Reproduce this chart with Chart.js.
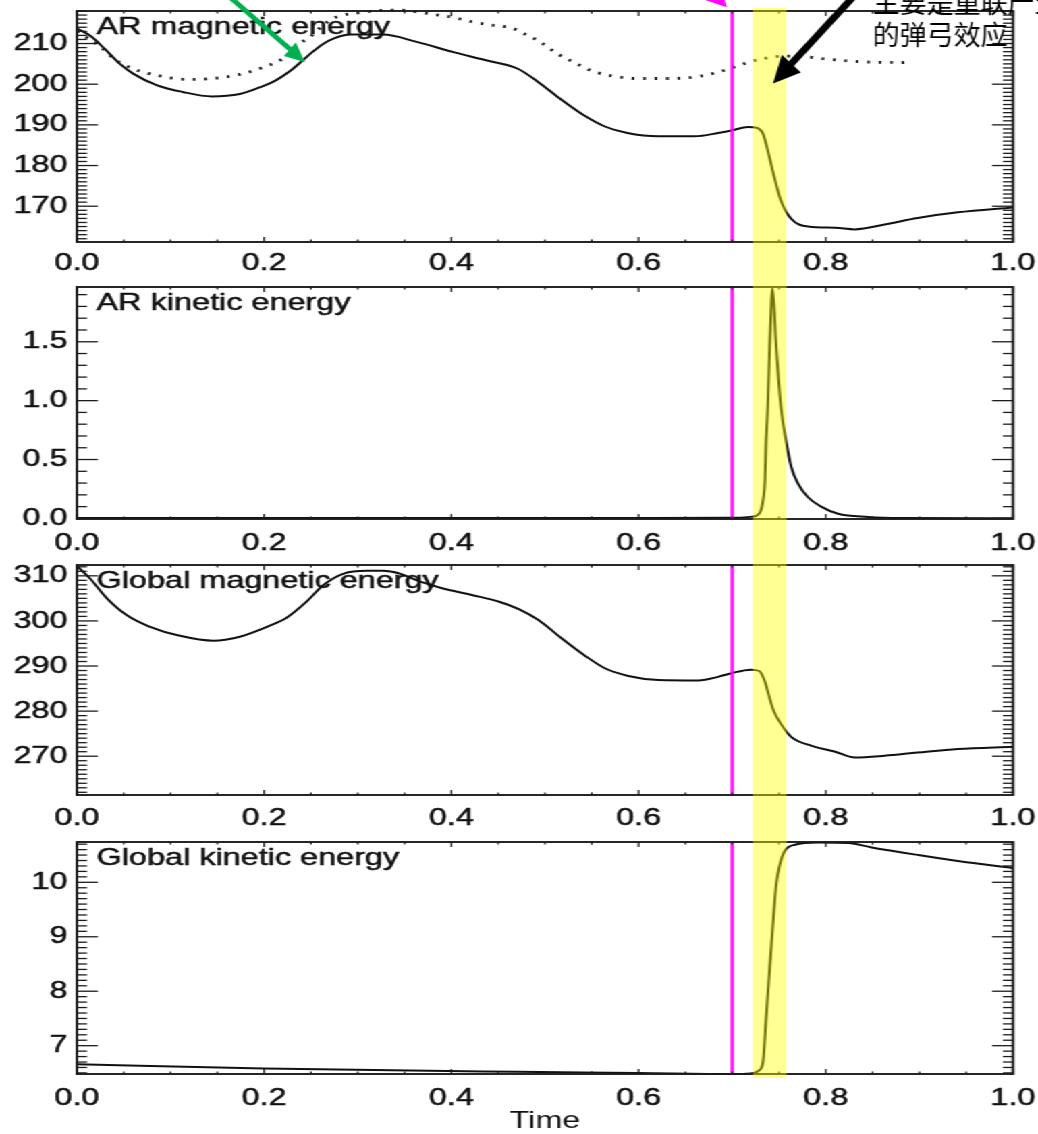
<!DOCTYPE html>
<html>
<head>
<meta charset="utf-8">
<script src="https://cdn.jsdelivr.net/npm/chart.js@4.4.1/dist/chart.umd.min.js"></script>
<style>
html, body { margin: 0; padding: 0; background: #fff; overflow: hidden; }
#wrap { position: absolute; left: 0; top: 0; width: 769px; height: 1134px; transform: scaleX(1.3498); transform-origin: 0 0; }
#wrap canvas { position: absolute; left: 0; }
</style>
</head>
<body>
<div id="wrap">
  <canvas id="c1"></canvas>
  <canvas id="c2"></canvas>
  <canvas id="c3"></canvas>
  <canvas id="c4"></canvas>
</div>
<script>
// --- données ---
const tArMag = [0.000, 0.015, 0.030, 0.045, 0.060, 0.085, 0.113, 0.144, 0.174, 0.195, 0.213, 0.228, 0.241, 0.252, 0.263, 0.274, 0.292, 0.327, 0.363, 0.402, 0.437, 0.471, 0.493, 0.514, 0.542, 0.564, 0.588, 0.621, 0.660, 0.685, 0.699, 0.717, 0.726, 0.733, 0.738, 0.745, 0.752, 0.763, 0.781, 0.810, 0.831, 0.863, 0.898, 0.941, 1.000];
const arMag = [213.7, 211.8, 208.6, 205.2, 202.6, 199.8, 198.1, 197.0, 197.6, 199.2, 201.0, 203.3, 205.8, 208.0, 209.9, 211.2, 212.2, 212.2, 210.4, 207.9, 205.9, 203.8, 200.5, 196.8, 192.3, 189.6, 188.0, 187.2, 187.2, 188.0, 188.6, 189.5, 189.3, 187.8, 183.7, 177.1, 171.4, 166.9, 165.0, 164.7, 164.3, 165.5, 167.1, 168.5, 169.7];

const tArMagDot = [0.000, 0.025, 0.042, 0.060, 0.085, 0.117, 0.145, 0.174, 0.203, 0.220, 0.238, 0.250, 0.263, 0.274, 0.284, 0.299, 0.316, 0.345, 0.363, 0.380, 0.402, 0.423, 0.444, 0.466, 0.477, 0.495, 0.513, 0.530, 0.551, 0.573, 0.598, 0.634, 0.666, 0.690, 0.708, 0.733, 0.754, 0.780, 0.804, 0.840, 0.893];
const arMagDot = [213.0, 209.2, 205.9, 203.8, 202.2, 201.2, 201.4, 202.4, 204.5, 206.3, 210.0, 211.8, 214.5, 216.2, 217.0, 217.5, 218.0, 218.2, 217.8, 217.2, 216.4, 215.3, 214.5, 213.7, 212.5, 210.4, 207.5, 205.5, 203.2, 202.0, 201.4, 201.4, 202.0, 203.3, 204.7, 206.3, 206.9, 206.7, 206.1, 205.5, 205.3];

const tArKin = [0.000, 0.200, 0.400, 0.600, 0.699, 0.720, 0.729, 0.733, 0.735, 0.736, 0.738, 0.740, 0.742, 0.743, 0.747, 0.752, 0.758, 0.763, 0.770, 0.781, 0.795, 0.813, 0.845, 0.880, 1.000];
const arKin = [0.004, 0.004, 0.004, 0.004, 0.005, 0.013, 0.042, 0.155, 0.325, 0.61, 0.95, 1.46, 1.86, 1.96, 1.46, 0.95, 0.64, 0.44, 0.30, 0.18, 0.10, 0.04, 0.013, 0.004, 0.002];

const tGlMag = [0.000, 0.014, 0.032, 0.053, 0.078, 0.110, 0.146, 0.174, 0.203, 0.224, 0.245, 0.263, 0.285, 0.310, 0.327, 0.345, 0.367, 0.391, 0.423, 0.452, 0.472, 0.493, 0.518, 0.542, 0.564, 0.589, 0.621, 0.664, 0.685, 0.699, 0.720, 0.729, 0.735, 0.739, 0.744, 0.753, 0.763, 0.785, 0.810, 0.831, 0.863, 0.898, 0.941, 1.000];
const glMag = [312.2, 309.4, 305.0, 301.3, 298.7, 296.7, 295.6, 296.5, 298.7, 300.7, 304.2, 307.9, 310.5, 311.1, 311.1, 310.5, 308.7, 307.2, 305.7, 304.2, 302.6, 300.2, 296.1, 292.4, 289.5, 287.8, 286.9, 286.8, 287.6, 288.4, 289.2, 288.9, 286.5, 283.6, 280.2, 276.9, 274.3, 272.3, 271.0, 269.7, 270.1, 270.8, 271.6, 272.1];

const tGlKin = [0.000, 0.200, 0.471, 0.600, 0.700, 0.720, 0.729, 0.733, 0.736, 0.740, 0.744, 0.747, 0.751, 0.756, 0.767, 0.792, 0.824, 0.849, 0.899, 0.941, 1.000];
const glKin = [6.66, 6.58, 6.52, 6.50, 6.48, 6.49, 6.55, 6.71, 7.44, 8.42, 9.34, 9.96, 10.33, 10.57, 10.69, 10.73, 10.72, 10.64, 10.50, 10.39, 10.26];

const xTicks = [0.0, 0.2, 0.4, 0.6, 0.8, 1.0];
const yTicksArMag = [170, 180, 190, 200, 210];
const yTicksArKin = [0.0, 0.5, 1.0, 1.5];
const yTicksGlMag = [270, 280, 290, 300, 310];
const yTicksGlKin = [7, 8, 9, 10];
const panelTitles = ['AR magnetic energy', 'AR kinetic energy', 'Global magnetic energy', 'Global kinetic energy'];

const reconnTime = 0.7;          // ligne magenta
const bandRange = [0.722, 0.758]; // bande jaune
const noteLines = ['主要是重联产生', '的弹弓效应'];

// --- mise en page ---
const S = 1038 / 769; // la figure d'origine est étirée horizontalement
const FONT = '"Liberation Sans", Arial, sans-serif';
const FSIZE = 24;
const panels = [
  { id: 'c1', top: 0,   h: 276, axisH: 34, lblPad: 7,  yMin: 161.2, yMax: 218.0, ticks: yTicksArMag, major: 10,  minor: 1,   dec: 0, bandTop: 8 },
  { id: 'c2', top: 276, h: 278, axisH: 35, lblPad: 10, yMin: -0.005, yMax: 1.965, ticks: yTicksArKin, major: 0.5, minor: 0.1, dec: 1 },
  { id: 'c3', top: 554, h: 277, axisH: 36, lblPad: 9,  yMin: 261.4, yMax: 312.4, ticks: yTicksGlMag, major: 10,  minor: 1,   dec: 0 },
  { id: 'c4', top: 831, h: 303, axisH: 60, lblPad: 10, yMin: 6.48,  yMax: 10.74, ticks: yTicksGlKin, major: 1,   minor: 0.1, dec: 0, bandBot: 247, last: true }
];

const series = [
  [{ t: tArMag, v: arMag }, { t: tArMagDot, v: arMagDot, dotted: true }],
  [{ t: tArKin, v: arKin }],
  [{ t: tGlMag, v: glMag }],
  [{ t: tGlKin, v: glKin }]
];

function seg(ctx, x0, y0, x1, y1) {
  ctx.beginPath(); ctx.moveTo(x0, y0); ctx.lineTo(x1, y1); ctx.stroke();
}

function arrow(ctx, x0, y0, x1, y1, w, hl, hw, color) {
  const dx = x1 - x0, dy = y1 - y0, L = Math.hypot(dx, dy);
  const ux = dx / L, uy = dy / L;
  const bx = x1 - ux * hl, by = y1 - uy * hl;
  ctx.strokeStyle = color; ctx.fillStyle = color; ctx.lineWidth = w; ctx.lineCap = 'butt';
  seg(ctx, x0, y0, bx + ux * 2, by + uy * 2);
  ctx.beginPath();
  ctx.moveTo(x1, y1);
  ctx.lineTo(bx - uy * hw, by + ux * hw);
  ctx.lineTo(bx + uy * hw, by - ux * hw);
  ctx.closePath(); ctx.fill();
}

function makePlugin(p, idx) {
  return {
    id: 'idlFrame',
    beforeDatasetsDraw(chart) {
      const ctx = chart.ctx, a = chart.chartArea;
      ctx.save();
      ctx.fillStyle = '#111';
      ctx.strokeStyle = '#111';
      ctx.lineWidth = 0.5;
      ctx.font = FSIZE + 'px ' + FONT;
      ctx.textBaseline = 'alphabetic';
      ctx.fillText(panelTitles[idx], a.left + 14.6, a.top + 23);
      ctx.strokeText(panelTitles[idx], a.left + 14.6, a.top + 23);
      ctx.restore();
    },
    afterDraw(chart) {
      const ctx = chart.ctx, a = chart.chartArea;
      const xs = chart.scales.x, ys = chart.scales.y;
      ctx.save();

      // ligne de reconnexion
      const xm = xs.getPixelForValue(reconnTime);
      ctx.strokeStyle = '#ff00ff'; ctx.lineWidth = 3.2 / S;
      seg(ctx, xm, a.top, xm, a.bottom);

      // cadre
      ctx.strokeStyle = '#1c1c1c'; ctx.lineWidth = 1.9;
      ctx.strokeRect(a.left, a.top, a.right - a.left, a.bottom - a.top);

      // graduations x (haut et bas, vers l'intérieur)
      ctx.lineWidth = 1.2;
      for (let i = 0; i <= 20; i++) {
        const px = xs.getPixelForValue(i * 0.05);
        const len = i % 4 === 0 ? 5 : 2.6;
        seg(ctx, px, a.bottom, px, a.bottom - len);
        seg(ctx, px, a.top, px, a.top + len);
      }
      // graduations y (gauche et droite)
      ctx.lineWidth = 1.3;
      const k0 = Math.ceil(p.yMin / p.minor - 1e-9);
      for (let k = k0; k * p.minor <= p.yMax + 1e-9; k++) {
        const v = k * p.minor;
        const isMajor = Math.abs(v / p.major - Math.round(v / p.major)) < 1e-6;
        const len = isMajor ? 15.5 : 7.5;
        const py = ys.getPixelForValue(v);
        seg(ctx, a.left, py, a.left + len, py);
        seg(ctx, a.right, py, a.right - len, py);
      }

      // bande jaune
      const b0 = xs.getPixelForValue(bandRange[0]), b1 = xs.getPixelForValue(bandRange[1]);
      const top = p.bandTop !== undefined ? p.bandTop : 0;
      const bot = p.bandBot !== undefined ? p.bandBot : chart.height;
      ctx.fillStyle = 'rgba(255, 255, 0, 0.42)';
      ctx.fillRect(b0, top, b1 - b0, bot - top);

      // annotations ajoutées sur la figure (non étirées)
      if (idx === 0) {
        const X = t => xs.getPixelForValue(t) * S;
        const Y = v => ys.getPixelForValue(v);
        ctx.scale(1 / S, 1);
        arrow(ctx, X(0.161), Y(221.9), X(0.2436), Y(205.4), 5, 20, 9, '#00b050');
        arrow(ctx, X(0.831), Y(221.9), X(0.7436), Y(200.2), 7, 27, 13, '#000');
        arrow(ctx, X(0.655), Y(228.0), X(0.6944), Y(218.9), 5, 20, 10, '#ff00ff');
        ctx.fillStyle = '#000';
        ctx.font = '27px "Noto Sans CJK SC"';
        ctx.textBaseline = 'alphabetic';
        ctx.fillText(noteLines[0], X(0.850), Y(217.6));
        ctx.fillText(noteLines[1], X(0.850), Y(209.6));
      }
      ctx.restore();
    }
  };
}

panels.forEach((p, idx) => {
  const cv = document.getElementById(p.id);
  cv.width = 769; cv.height = p.h;
  cv.style.top = p.top + 'px';
  const tickFont = { family: FONT, size: FSIZE };

  const datasets = series[idx].map(s => ({
    data: s.t.map((t, i) => ({ x: t, y: s.v[i] })),
    borderColor: s.dotted ? '#262626' : '#111',
    borderWidth: s.dotted ? 2.8 : 2.0,
    borderDash: s.dotted ? [2.1, 6.4] : [],
    pointRadius: 0,
    cubicInterpolationMode: 'monotone',
    fill: false,
    clip: 6
  }));

  new Chart(cv.getContext('2d'), {
    type: 'line',
    data: { datasets: datasets },
    plugins: [makePlugin(p, idx)],
    options: {
      responsive: false,
      animation: false,
      devicePixelRatio: 1,
      layout: { padding: { top: 11, right: 18.5, left: 0, bottom: 0 } },
      plugins: { legend: { display: false }, tooltip: { enabled: false } },
      scales: {
        x: {
          type: 'linear', min: 0, max: 1,
          grid: { display: false, drawTicks: false },
          border: { display: false },
          afterBuildTicks: s => { s.ticks = xTicks.map(v => ({ value: v })); },
          afterFit: s => { s.height = p.axisH; s.paddingLeft = 0; s.paddingRight = 0; },
          ticks: { padding: p.lblPad, autoSkip: false, maxRotation: 0, font: tickFont, color: '#111',
                   textStrokeColor: '#111', textStrokeWidth: 0.5,
                   callback: v => Number(v).toFixed(1) },
          title: p.last ? { display: true, text: 'Time', font: tickFont, color: '#111', padding: { top: 0, bottom: -2 } }
                        : { display: false }
        },
        y: {
          type: 'linear', min: p.yMin, max: p.yMax,
          grid: { display: false, drawTicks: false },
          border: { display: false },
          afterBuildTicks: s => { s.ticks = p.ticks.map(v => ({ value: v })); },
          afterFit: s => { s.width = 57; s.paddingTop = 0; s.paddingBottom = 0; },
          ticks: { padding: 7, font: tickFont, color: '#111',
                   textStrokeColor: '#111', textStrokeWidth: 0.5,
                   callback: v => Number(v).toFixed(p.dec) }
        }
      }
    }
  });
});
</script>
</body>
</html>
